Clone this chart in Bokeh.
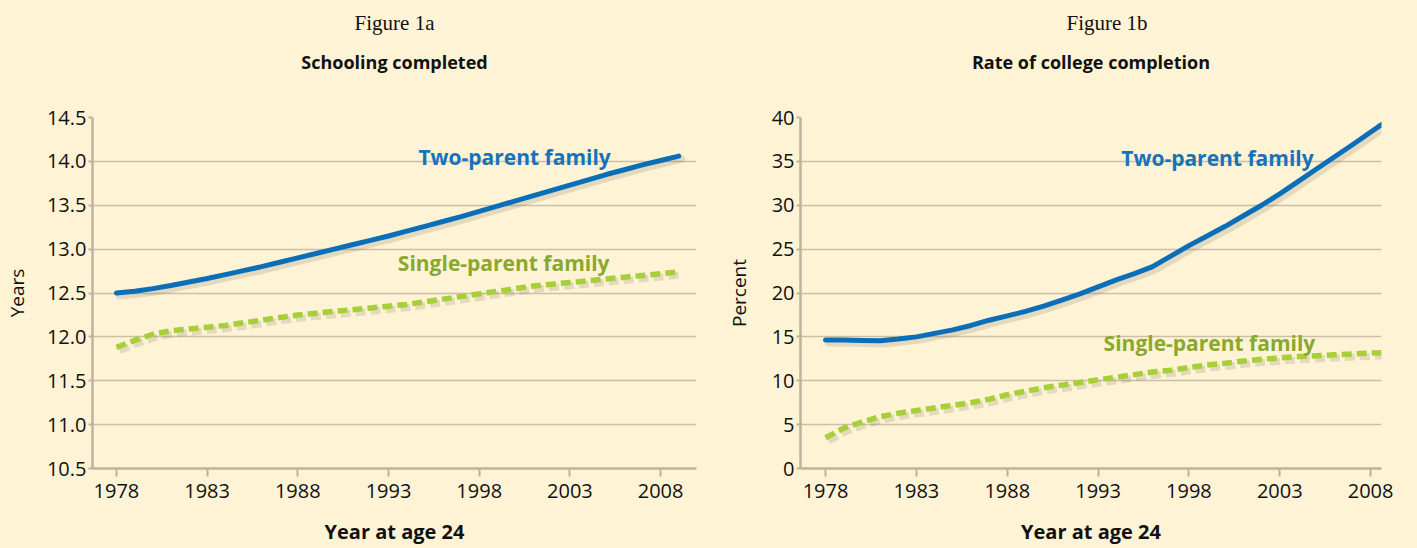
from bokeh.plotting import figure
from bokeh.models import Label, FixedTicker, Range1d, Title, PrintfTickFormatter
from bokeh.layouts import row
from bokeh.embed import file_html
from bokeh.resources import INLINE

# ---------------- data ----------------
years_a = [1978, 1979, 1980, 1981, 1982, 1983, 1984, 1985, 1986, 1987, 1988, 1989, 1990,
           1991, 1992, 1993, 1994, 1995, 1996, 1997, 1998, 1999, 2000, 2001, 2002, 2003,
           2004, 2005, 2006, 2007, 2008, 2009]
two_parent_years = [12.50, 12.52, 12.55, 12.585, 12.625, 12.665, 12.71, 12.755, 12.80, 12.85, 12.90,
                    12.95, 13.00, 13.05, 13.10, 13.15, 13.205, 13.26, 13.315, 13.37, 13.43, 13.49,
                    13.55, 13.61, 13.67, 13.73, 13.79, 13.85, 13.905, 13.96, 14.01, 14.06]
single_parent_years = [11.88, 11.96, 12.03, 12.07, 12.09, 12.11, 12.13, 12.16, 12.19, 12.22, 12.25,
                       12.27, 12.29, 12.31, 12.33, 12.35, 12.37, 12.40, 12.43, 12.46, 12.49, 12.52,
                       12.55, 12.58, 12.60, 12.62, 12.64, 12.66, 12.68, 12.70, 12.72, 12.74]

years_b = [1978, 1979, 1980, 1981, 1982, 1983, 1984, 1985, 1986, 1987, 1988, 1989, 1990,
           1991, 1992, 1993, 1994, 1995, 1996, 1997, 1998, 1999, 2000, 2001, 2002, 2003,
           2004, 2005, 2006, 2007, 2008.6]
two_parent_pct = [14.65, 14.65, 14.60, 14.55, 14.75, 15.0, 15.4, 15.8, 16.3, 16.9, 17.4, 17.9, 18.5,
                  19.2, 19.9, 20.7, 21.5, 22.2, 23.0, 24.2, 25.4, 26.5, 27.6, 28.8, 30.0, 31.3,
                  32.7, 34.1, 35.5, 36.9, 39.2]
single_parent_pct = [3.5, 4.6, 5.3, 5.9, 6.3, 6.6, 6.9, 7.2, 7.5, 7.9, 8.4, 8.8, 9.2, 9.5, 9.8,
                     10.1, 10.4, 10.7, 11.0, 11.2, 11.5, 11.8, 12.0, 12.25, 12.45, 12.6, 12.75,
                     12.85, 12.95, 13.05, 13.2]

x_ticks = [1978, 1983, 1988, 1993, 1998, 2003, 2008]
y_ticks_a = [10.5, 11.0, 11.5, 12.0, 12.5, 13.0, 13.5, 14.0, 14.5]
y_ticks_b = [0, 5, 10, 15, 20, 25, 30, 35, 40]

# ---------------- styles ----------------
BG = "#FEF3D5"
BLUE = "#0A6EB9"
GREEN = "#A8CF3A"
GREEN_TXT = "#8AA82E"
BLUE_TXT = "#1672B9"
GRID = "#CBC0A6"
AXIS = "#BDB39F"
SHADOW = "#6f6552"
SANS = "Open Sans"
SERIF = "Liberation Serif"


def make_fig(width, height, xr, yr, yticks, borders, fig_title, sub_title, ylabel,
             fig_align, fig_offset, ylab_standoff):
    l, r, t, b = borders
    p = figure(width=width, height=height, x_range=Range1d(*xr), y_range=Range1d(*yr),
               output_backend="svg", toolbar_location=None, title=fig_title,
               min_border_left=l, min_border_right=r, min_border_top=t, min_border_bottom=b)
    p.background_fill_color = BG
    p.border_fill_color = BG
    p.outline_line_color = None
    # figure number (serif) and chart title (bold sans)
    p.title.align = fig_align
    p.title.offset = fig_offset
    p.title.text_font = SERIF
    p.title.text_font_size = "21px"
    p.title.text_font_style = "normal"
    p.title.text_color = "#111111"
    p.title.standoff = -62
    p.add_layout(Title(text=sub_title, align="center", text_font=SANS,
                       text_font_size="18px", text_font_style="bold", text_color="#111111",
                       standoff=88), "above")
    p.xgrid.grid_line_color = None
    p.ygrid.grid_line_color = GRID
    p.ygrid.grid_line_width = 1.5
    p.xaxis.ticker = FixedTicker(ticks=x_ticks)
    p.yaxis.ticker = FixedTicker(ticks=yticks)
    for ax in (p.xaxis, p.yaxis):
        ax.axis_line_color = AXIS
        ax.axis_line_width = 2.5
        ax.major_tick_line_color = AXIS
        ax.major_tick_line_width = 2
        ax.minor_tick_line_color = None
        ax.major_tick_in = 0
        ax.major_label_text_font = SANS
        ax.major_label_text_font_size = "20px"
        ax.major_label_text_color = "#111111"
        ax.axis_label_text_font = SANS
        ax.axis_label_text_color = "#111111"
    p.xaxis.major_tick_out = 8
    p.xaxis.major_label_standoff = 7
    p.yaxis.major_tick_out = 4
    p.yaxis.major_label_standoff = 2
    p.xaxis.axis_label = "Year at age 24"
    p.xaxis.axis_label_text_font_style = "bold"
    p.xaxis.axis_label_text_font_size = "20px"
    p.xaxis.axis_label_standoff = 17
    p.yaxis.axis_label = ylabel
    p.yaxis.axis_label_text_font_style = "normal"
    p.yaxis.axis_label_text_font_size = "19px"
    p.yaxis.axis_label_standoff = ylab_standoff
    return p


def add_series(p, xs, blue_y, green_y, dx, dy):
    # soft drop shadows
    p.line([x + dx for x in xs], [y - dy for y in blue_y], line_color=SHADOW, line_alpha=0.18,
           line_width=7, line_cap="round")
    p.line([x + dx for x in xs], [y - dy for y in green_y], line_color=SHADOW, line_alpha=0.18,
           line_width=7, line_dash="10 5")
    p.line(xs, green_y, line_color=GREEN, line_width=5.5, line_dash="10 5")
    p.line(xs, blue_y, line_color=BLUE, line_width=5, line_cap="round", line_join="round")


def lab(p, x, y, text, color):
    p.add_layout(Label(x=x, y=y, text=text, text_font=SANS, text_font_size="21px",
                       text_color=color, text_font_style="bold", text_align="center",
                       text_baseline="middle"))


# ---------------- Figure 1a ----------------
pa = make_fig(712, 548, (1976.68, 2009.98), (10.5, 14.5), y_ticks_a, (91, 16, 117, 79),
              "Figure 1a", "Schooling completed", "Years", "center", 0, 14)
pa.yaxis.formatter = PrintfTickFormatter(format="%.1f")
add_series(pa, years_a, two_parent_years, single_parent_years, 0.17, 0.035)
lab(pa, 1999.95, 14.045, "Two-parent family", BLUE_TXT)
lab(pa, 1999.35, 12.84, "Single-parent family", GREEN_TXT)

# ---------------- Figure 1b ----------------
pb = make_fig(705, 548, (1976.62, 2008.6), (0, 40), y_ticks_b, (88, 36, 116, 80),
              "Figure 1b", "Rate of college completion", "Percent", "left", 266, 17)
add_series(pb, years_b, two_parent_pct, single_parent_pct, 0.17, 0.35)
lab(pb, 1999.57, 35.34, "Two-parent family", BLUE_TXT)
lab(pb, 1999.13, 14.32, "Single-parent family", GREEN_TXT)

layout = row(pa, pb)
html = file_html(layout, INLINE)
style = ("<style>html, body { margin: 0 !important; padding: 0 !important; "
         "background-color: %s; overflow: hidden; }</style>" % BG)
html = html.replace("</head>", style + "</head>", 1)
open("out.html", "w").write(html)
